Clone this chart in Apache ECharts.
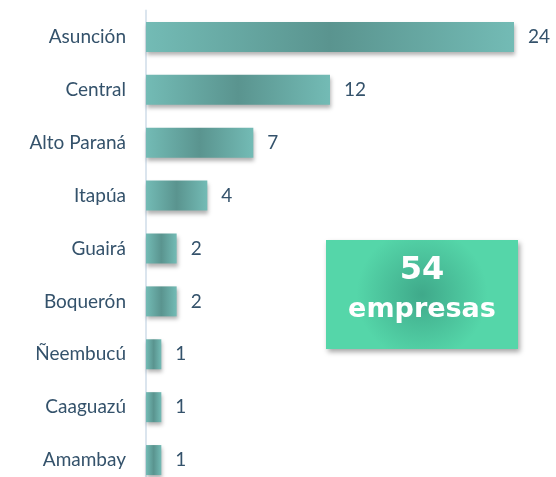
<!DOCTYPE html>
<html>
<head>
<meta charset="utf-8">
<script src="https://cdn.jsdelivr.net/npm/echarts@6/dist/echarts.min.js"></script>
<style>
  html, body { margin: 0; padding: 0; background: #fff; }
  #chart { width: 556px; height: 477px; }
</style>
</head>
<body>
<div id="chart"></div>
<script>
const departamentos = ['Asunción', 'Central', 'Alto Paraná', 'Itapúa', 'Guairá', 'Boquerón', 'Ñeembucú', 'Caaguazú', 'Amambay'];
const empresas = [24, 12, 7, 4, 2, 2, 1, 1, 1];
const totalLabel = ['54', 'empresas'];

const font = 'Lato, "DejaVu Sans", sans-serif';
const boxFont = '"DejaVu Sans", sans-serif';
const textColor = '#34526b';

const barColor = new echarts.graphic.LinearGradient(0, 0, 1, 0, [
    { offset: 0, color: '#73bbb5' },
    { offset: 0.5, color: '#5a948f' },
    { offset: 1, color: '#73bbb5' }
]);

const chart = echarts.init(document.getElementById('chart'));
chart.setOption({
    animation: false,
    grid: { left: 146, right: 42, top: 10.5, height: 476, outerBoundsMode: 'none' },
    xAxis: {
        type: 'value',
        min: 0,
        max: 24,
        show: false
    },
    yAxis: {
        type: 'category',
        inverse: true,
        data: departamentos,
        axisLine: { show: true, lineStyle: { color: '#dbe5ee', width: 2 } },
        axisTick: { show: false },
        axisLabel: { color: textColor, fontFamily: font, fontSize: 19, margin: 20 }
    },
    series: [{
        type: 'bar',
        data: empresas,
        barWidth: 30,
        itemStyle: {
            color: barColor,
            shadowColor: 'rgba(0,0,0,0.3)',
            shadowBlur: 4,
            shadowOffsetY: 3,
            shadowOffsetX: 1
        },
        label: {
            show: true,
            position: 'right',
            distance: 14,
            color: textColor,
            fontFamily: font,
            fontSize: 19
        }
    }],
    graphic: [{
        type: 'group',
        left: 326,
        top: 240,
        children: [{
            type: 'rect',
            shape: { x: 0, y: 0, width: 192, height: 109 },
            style: {
                fill: new echarts.graphic.RadialGradient(0.5, 0.5, 0.6, [
                    { offset: 0, color: '#3fa98a' },
                    { offset: 1, color: '#55d6a9' }
                ]),
                shadowColor: 'rgba(0,0,0,0.35)',
                shadowBlur: 5,
                shadowOffsetY: 3,
                shadowOffsetX: 2
            }
        }, {
            type: 'text',
            x: 96,
            y: 31,
            style: {
                text: totalLabel[0],
                fill: '#fff',
                font: 'bold 32px ' + boxFont,
                align: 'center',
                verticalAlign: 'middle'
            }
        }, {
            type: 'text',
            x: 96,
            y: 70,
            style: {
                text: totalLabel[1],
                fill: '#fff',
                font: 'bold 27px ' + boxFont,
                align: 'center',
                verticalAlign: 'middle'
            }
        }]
    }]
});
</script>
</body>
</html>
